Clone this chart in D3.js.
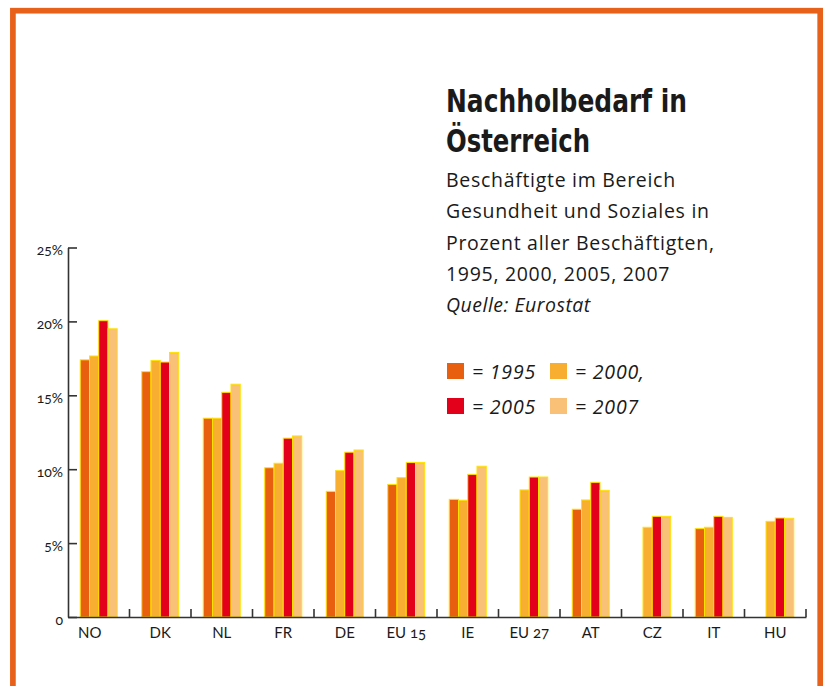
<!DOCTYPE html>
<html lang="de">
<head>
<meta charset="utf-8">
<script src="https://cdnjs.cloudflare.com/ajax/libs/d3/7.8.5/d3.min.js"></script>
<title>Nachholbedarf in Österreich</title>
<style>
body{
margin: 0;
background: #ffffff;
font-family: 'Open Sans', sans-serif;
}
svg{
display: block;
}
</style>
</head>
<body>
<svg width="827" height="686"></svg>

<script>
// data (percent of all employed)
var countries = ["NO","DK","NL","FR","DE","EU 15","IE","EU 27","AT","CZ","IT","HU"];
var years = ["1995","2000","2005","2007"];
var v1995 = [17.4, 16.6, 13.45, 10.1, 8.5, 8.97, 7.96, null, 7.29, null, 5.98, null];
var v2000 = [17.66, 17.35, 13.45, 10.4, 9.9, 9.43, 7.9, 8.6, 7.92, 6.07, 6.07, 6.47];
var v2005 = [20.05, 17.25, 15.2, 12.1, 11.15, 10.45, 9.65, 9.47, 9.11, 6.81, 6.81, 6.7];
var v2007 = [19.5, 17.9, 15.75, 12.25, 11.3, 10.45, 10.2, 9.47, 8.57, 6.81, 6.74, 6.68];
var yTicks = [0, 5, 10, 15, 20, 25];

var colors = {"1995":"#e8600f","2000":"#f7ae31","2005":"#e2001a","2007":"#f9c077"};
var barStroke = "#ffe300";
var ink = "#1a1a1a";

var svg = d3.select("svg");

// orange frame, open at the bottom
svg.append("rect")
.attr("x",12.9).attr("y",10.7)
.attr("width",807.3).attr("height",720)
.attr("fill","none")
.attr("stroke","#e8611a")
.attr("stroke-width",5.7);

var x0 = 68, x1 = 806, yBase = 617, yTop = 247.5;

var x = d3.scaleBand().domain(countries).range([x0, x1]).padding(0);
var inner = d3.scaleBand().domain(years)
  .range([(x.bandwidth()-37)/2, (x.bandwidth()+37)/2]).padding(0);
var y = d3.scaleLinear().domain([0, 25]).range([yBase, yTop]);

var series = {"1995":v1995,"2000":v2000,"2005":v2005,"2007":v2007};
var rows = [];
countries.forEach(function(c,i){
  years.forEach(function(yr){
    var v = series[yr][i];
    if (v != null) rows.push({country:c, year:yr, value:v});
  });
});

svg.append("g").selectAll("rect")
.data(rows).enter()
.append("rect")
.attr("x",function(d){return x(d.country)+inner(d.year)})
.attr("y",function(d){return y(d.value)})
.attr("width",inner.bandwidth())
.attr("height",function(d){return yBase - y(d.value)})
.attr("fill",function(d){return colors[d.year]})
.attr("stroke",barStroke)
.attr("stroke-width",1);

// y axis, ticks pointing inward
var yAxis = svg.append("g")
.attr("transform","translate("+x0+",0)")
.call(d3.axisLeft(y).tickValues(yTicks).tickSize(-9).tickSizeOuter(0).tickPadding(5)
  .tickFormat(function(d){return d==0 ? "0" : d+"%"}));
yAxis.selectAll("path,line").attr("stroke","#333333").attr("stroke-width",1.6);
yAxis.selectAll("text")
.attr("dy","0.5em")
.attr("fill",ink)
.style("font-family","Lato, sans-serif")
.style("font-size","14px")
.style("font-variant-numeric","oldstyle-nums");

// x axis with separators between groups
var xAxis = svg.append("g")
.attr("transform","translate(0,"+yBase+")")
.call(d3.axisBottom(x).tickSize(0).tickSizeOuter(0).tickPadding(10));
xAxis.select(".domain").attr("stroke","#333333").attr("stroke-width",1.6);
xAxis.selectAll("text")
.attr("fill",ink)
.attr("dx",function(d){return d=="NO" ? -9 : 0})
.style("font-family","Lato, sans-serif")
.style("font-size","15px")
.style("font-variant-numeric","oldstyle-nums");

svg.append("g").selectAll("line")
.data(countries).enter()
.append("line")
.attr("x1",function(d){return x(d)+x.bandwidth()})
.attr("x2",function(d){return x(d)+x.bandwidth()})
.attr("y1",yBase)
.attr("y2",yBase-8)
.attr("stroke","#333333")
.attr("stroke-width",1.6);

// title block
var tx = 446;
svg.append("text")
.attr("x",tx).attr("y",111.5)
.attr("fill",ink)
.attr("textLength",241)
.attr("lengthAdjust","spacingAndGlyphs")
.style("font-family","'DejaVu Sans Condensed', 'DejaVu Sans', sans-serif")
.style("font-weight",700)
.style("font-size","32px")
.text("Nachholbedarf in");
svg.append("text")
.attr("x",tx).attr("y",151.5)
.attr("fill",ink)
.attr("textLength",144)
.attr("lengthAdjust","spacingAndGlyphs")
.style("font-family","'DejaVu Sans Condensed', 'DejaVu Sans', sans-serif")
.style("font-weight",700)
.style("font-size","32px")
.text("Österreich");

var sub = ["Beschäftigte im Bereich","Gesundheit und Soziales in","Prozent aller Beschäftigten,","1995, 2000, 2005, 2007"];
svg.selectAll("text.sub")
.data(sub).enter()
.append("text")
.attr("class","sub")
.attr("x",tx)
.attr("y",function(d,i){return 186.7+i*31.5})
.attr("fill",ink)
.style("font-size","19.5px")
.style("letter-spacing","0.7px")
.text(function(d){return d});

svg.append("text")
.attr("x",tx).attr("y",312)
.attr("fill",ink)
.style("font-size","19.5px")
.style("letter-spacing","0.5px")
.style("font-style","italic")
.text("Quelle: Eurostat");

// legend
var legendText = ["= 1995","= 2000,","= 2005","= 2007"];
var lg = svg.selectAll("g.lg")
.data(years).enter()
.append("g")
.attr("class","lg")
.attr("transform",function(d,i){return "translate("+(447+(i%2)*103)+","+(363+Math.floor(i/2)*35)+")"});
lg.append("rect")
.attr("width",17).attr("height",16)
.attr("fill",function(d){return colors[d]});
lg.append("text")
.attr("x",25).attr("y",16)
.attr("fill",ink)
.style("font-size","19.5px")
.style("letter-spacing","0.8px")
.style("font-style","italic")
.text(function(d,i){return legendText[i]});
</script>
</body>
</html>
